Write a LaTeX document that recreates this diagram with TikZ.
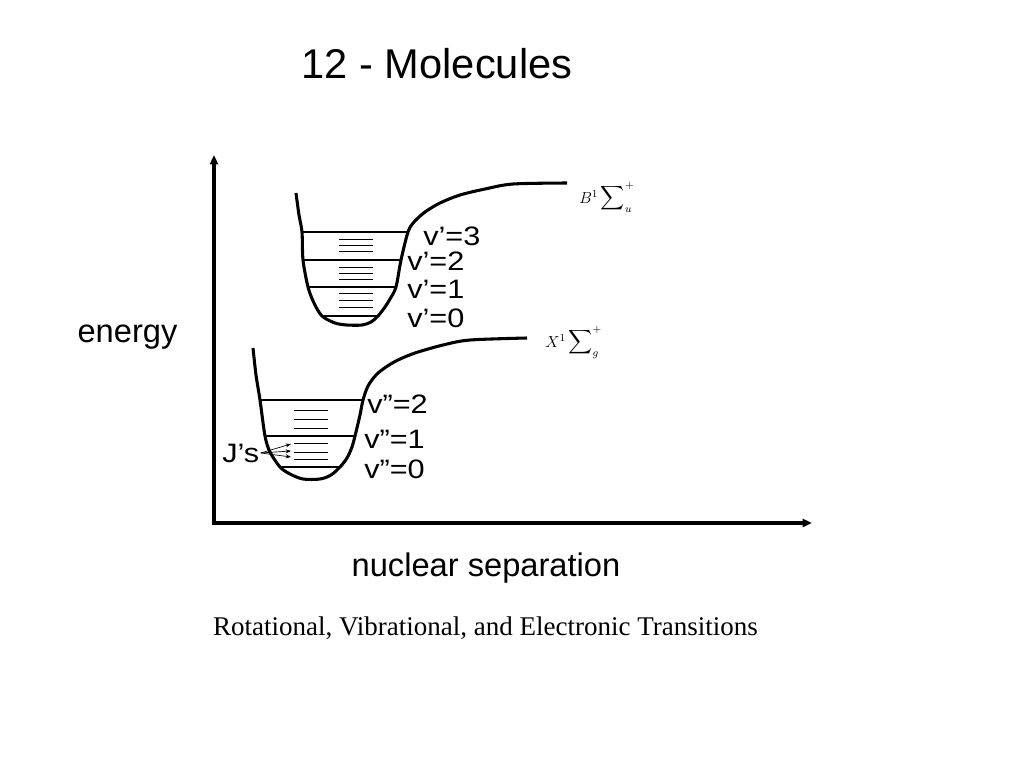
\documentclass[tikz,border=0pt]{standalone}
\usepackage{fontspec}
\setmainfont{Liberation Sans}
\newfontfamily\serifcap{Liberation Serif}
\newfontfamily\widesans[FakeStretch=1.15]{Liberation Sans}
\usetikzlibrary{arrows.meta}
\begin{document}
\begin{tikzpicture}[x=0.75pt,y=-0.75pt,
  pes/.style={line width=2.3pt,line join=round},
  axis/.style={line width=2.3pt,{Triangle[length=7pt,width=6pt]}-{Triangle[length=7pt,width=6pt]}},
  vlevel/.style={line width=1.5pt},
  jlevel/.style={line width=0.6pt},
  jarrow/.style={line width=0.5pt,-{Stealth[length=4pt,width=3pt]}},
  vlabel/.style={anchor=base west,inner sep=0pt,font=\widesans\fontsize{20}{22}\selectfont},
  term/.style={anchor=base west,inner sep=0pt,font=\serifcap\fontsize{11.5}{13}\selectfont}]
\useasboundingbox (0,0) rectangle (1024,768);
\node[anchor=base,font=\fontsize{31.2}{35}\selectfont] (title) at (437,78) {12 - Molecules};
\coordinate (ytop) at (214,155);
\coordinate (origin) at (214,523);
\coordinate (xend) at (812,523);
\draw[axis] (ytop) -- (origin) -- (xend);
\node[anchor=base,font=\fontsize{24.5}{28}\selectfont] (energy) at (127.5,342) {energy};
\node[anchor=base,font=\fontsize{24.5}{28}\selectfont] (nucsep) at (486,576) {nuclear separation};
\node[anchor=base,font=\serifcap\fontsize{20.25}{24}\selectfont] (caption) at (485.5,635) {Rotational, Vibrational, and Electronic Transitions};
% upper state
\draw[pes] plot[smooth,tension=0.5] coordinates {(296,193) (299,215) (302,232) (303,260) (308,287) (314,303) (322,316) (335,323) (347,325) (362,325) (371,322) (378,316) (385,307) (390,299) (396,287) (401,260) (408,232) (414,222) (425,212) (440,203) (460,195) (485,189) (513,184) (567,183)};
\foreach \y/\a/\b in {232/302/408, 260/303/401, 287/308/396, 316/322/378}
  \draw[vlevel] (\a,\y) -- (\b,\y);
\foreach \y in {239,245,251,267,273,279,293,300,307}
  \draw[jlevel] (339,\y) -- (373,\y);
\node[term] (bstate) at (579,203) {$B^{1}\mathop{\scalebox{1.25}{$\displaystyle\sum$}}\nolimits_{u}^{+}$};
\node[vlabel] (vu3) at (423,245) {v’=3};
\node[vlabel] (vu2) at (407,270) {v’=2};
\node[vlabel] (vu1) at (407,298) {v’=1};
\node[vlabel] (vu0) at (407,327) {v’=0};
% lower state
\draw[pes] plot[smooth,tension=0.5] coordinates {(253,348) (256,375) (260,400) (265,436) (270,452) (280,467) (290,474) (303,479) (320,479) (331,475) (340,467) (347,458) (352,447) (355,436) (360,415) (363,400) (368,386) (376,375) (386,367) (398,360) (415,353) (443,345) (470,340) (527,338)};
\foreach \y/\a/\b in {400/260/363, 436/265/355, 467/280/340}
  \draw[vlevel] (\a,\y) -- (\b,\y);
\foreach \y in {410,419,428,443,452,459}
  \draw[jlevel] (294,\y) -- (328,\y);
\node[term] (xstate) at (545,347) {$X^{1}\mathop{\scalebox{1.25}{$\displaystyle\sum$}}\nolimits_{g}^{+}$};
\node[vlabel] (vl2) at (367,413) {v”=2};
\node[vlabel] (vl1) at (364,448) {v”=1};
\node[vlabel] (vl0) at (364,478) {v”=0};
\node[vlabel] (js) at (222,462) {J’s};
\foreach \y [count=\i] in {444,451,457} {
  \coordinate (jend\i) at (291,\y);
  \draw[jarrow] ([xshift=1pt]js.east) -- (jend\i);
}
\end{tikzpicture}
\end{document}
